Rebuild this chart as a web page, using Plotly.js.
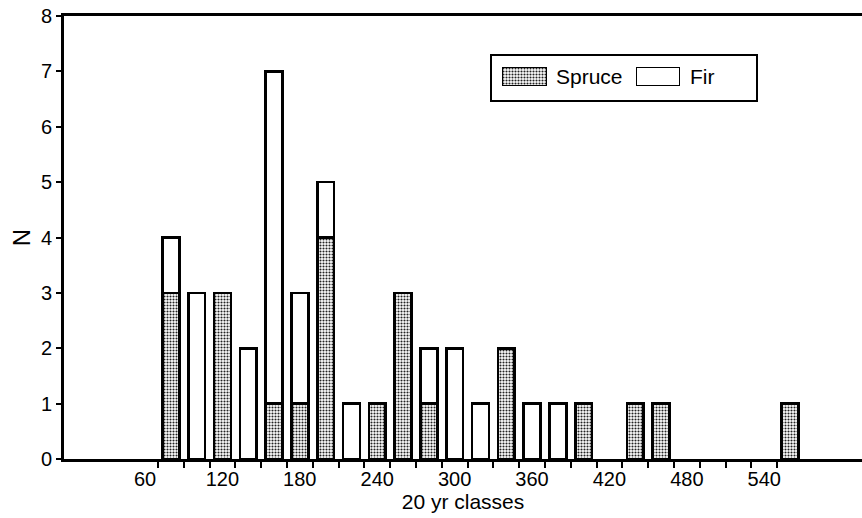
<!DOCTYPE html>
<html>
<head>
<meta charset="utf-8">
<script src="https://cdn.plot.ly/plotly-3.0.1.min.js"></script>
<style>html,body{margin:0;padding:0;background:#fff;}#chart{width:862px;height:518px;}</style>
</head>
<body>
<div id="chart"></div>
<script>
// 20-year age classes (bin centres) that hold at least one tree
const classes = [80,100,120,140,160,180,200,220,240,260,280,300,320,340,360,380,400,440,460,560];
const spruce  = [3, 0, 3, 0, 1, 1, 4, 0, 1, 3, 1, 0, 0, 2, 0, 0, 1, 1, 1, 1];
const fir     = [1, 3, 0, 2, 6, 2, 1, 1, 0, 0, 1, 2, 1, 0, 1, 1, 0, 0, 0, 0];
// class boundaries carrying tick marks
const edgeTicks = [70,90,110,130,150,170,190,210,230,250,270,290,310,330,350,370,390,410,430,450,470,490,510,530,550];
// labelled classes
const labelVals = [60,120,180,240,300,360,420,480,540];
const yTicks = [0,1,2,3,4,5,6,7,8];
const legendSwatch = [1];

const FONT = '"Liberation Sans", Arial, Helvetica, sans-serif';
const xr = [-2.8, 615.8];
const sprucePattern = {shape: '.', fgcolor: '#222', bgcolor: '#fff', size: 3, solidity: 0.4};

const traces = [
  {type: 'bar', name: 'Spruce', x: classes, y: spruce, width: 13,
   marker: {color: '#fff', pattern: sprucePattern, line: {color: '#000', width: 2.6}},
   hoverinfo: 'x+y', showlegend: false},
  {type: 'bar', name: 'Fir', x: classes, y: fir, width: 13,
   marker: {color: '#fff', line: {color: '#000', width: 2.6}},
   hoverinfo: 'x+y', showlegend: false},
  // legend swatches
  {type: 'bar', x: [0], y: legendSwatch, width: 1, xaxis: 'x3', yaxis: 'y3',
   marker: {color: '#fff', pattern: sprucePattern, line: {color: '#000', width: 1.5}},
   showlegend: false, hoverinfo: 'skip'},
  {type: 'bar', x: [0], y: legendSwatch, width: 1, xaxis: 'x4', yaxis: 'y4',
   marker: {color: '#fff', line: {color: '#000', width: 1.5}},
   showlegend: false, hoverinfo: 'skip'}
];

const pxX = p => (p - 64) / 798;
const pxY = p => (459 - p) / 443;

const layout = {
  width: 862, height: 518,
  margin: {l: 64, r: 0, t: 16, b: 59},
  paper_bgcolor: '#fff', plot_bgcolor: '#fff',
  font: {family: FONT, color: '#000', size: 20},
  barmode: 'stack',
  showlegend: false,
  xaxis: {
    range: xr, showgrid: false, zeroline: false,
    showline: true, linecolor: '#000', linewidth: 3, mirror: true,
    tickmode: 'array', tickvals: labelVals, ticktext: labelVals.map(String),
    ticks: '', tickfont: {size: 20, family: FONT}, ticklabelstandoff: 0,
    minor: {tickmode: 'array', tickvals: edgeTicks, ticks: 'outside', ticklen: 6, tickwidth: 2, tickcolor: '#000', showgrid: false},
    title: {text: '20 yr classes', font: {size: 21, family: FONT}, standoff: 2}
  },
  yaxis: {
    range: [0, 8], showgrid: false, zeroline: false,
    showline: true, linecolor: '#000', linewidth: 3, mirror: false,
    tickmode: 'array', tickvals: yTicks, ticks: 'outside', ticklen: 5, tickwidth: 2, tickcolor: '#000',
    tickfont: {size: 20, family: FONT},
    title: {text: 'N', font: {size: 24, family: FONT}, standoff: 4}
  },
  xaxis3: {domain: [pxX(502), pxX(547)], anchor: 'y3', range: [-0.5, 0.5], visible: false, fixedrange: true},
  yaxis3: {domain: [pxY(86), pxY(67)], anchor: 'x3', range: [0, 1], visible: false, fixedrange: true},
  xaxis4: {domain: [pxX(636), pxX(680)], anchor: 'y4', range: [-0.5, 0.5], visible: false, fixedrange: true},
  yaxis4: {domain: [pxY(86), pxY(67)], anchor: 'x4', range: [0, 1], visible: false, fixedrange: true},
  shapes: [
    {type: 'rect', xref: 'paper', yref: 'paper', x0: pxX(491), x1: pxX(757), y0: pxY(101), y1: pxY(55),
     line: {color: '#000', width: 2}, fillcolor: 'rgba(0,0,0,0)', layer: 'below'}
  ],
  annotations: [
    {xref: 'paper', yref: 'paper', x: pxX(554), y: pxY(77), text: 'Spruce', showarrow: false,
     xanchor: 'left', yanchor: 'middle', font: {size: 21, family: FONT}},
    {xref: 'paper', yref: 'paper', x: pxX(688), y: pxY(77), text: 'Fir', showarrow: false,
     xanchor: 'left', yanchor: 'middle', font: {size: 21, family: FONT}}
  ]
};

Plotly.newPlot('chart', traces, layout, {displayModeBar: false, staticPlot: true});
</script>
</body>
</html>
